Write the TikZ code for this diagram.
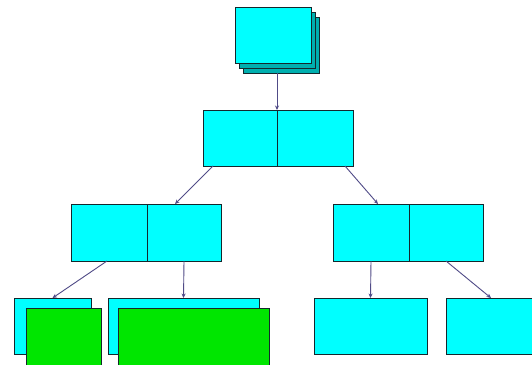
\documentclass[tikz,border=0pt]{standalone}
\usetikzlibrary{arrows.meta}
\definecolor{boxcyan}{RGB}{0,255,255}
\definecolor{boxteal}{RGB}{0,175,175}
\definecolor{boxgreen}{RGB}{0,230,0}
\definecolor{edgecol}{RGB}{20,40,45}
\definecolor{arrcol}{RGB}{80,75,135}
\tikzset{
  cbox/.style={draw=edgecol, line width=0.9pt, fill=boxcyan, inner sep=0pt, outer sep=0pt, minimum height=56pt},
  tbox/.style={cbox, fill=boxteal},
  gbox/.style={cbox, fill=boxgreen},
  arr/.style={draw=arrcol, line width=0.9pt, -{Stealth[length=4.5pt,width=4pt]}}
}
\begin{document}
\begin{tikzpicture}[x=1pt,y=-1pt]
\useasboundingbox (0,0) rectangle (532,364);
\fill[white] (0,0) rectangle (532,364);
\clip (0,0) rectangle (532,364);
% top stacked box
\node[tbox, minimum width=76pt] (topback) at (281,45) {};
\node[tbox, minimum width=76pt] (topmid) at (277,40) {};
\node[cbox, minimum width=76pt] (top) at (273,35) {};
% level 2
\node[cbox, minimum width=74pt] (l2a) at (240,138) {};
\node[cbox, minimum width=76pt] (l2b) at (315,138) {};
% level 3
\node[cbox, minimum width=76pt, minimum height=57pt] (l3a) at (109,232.5) {};
\node[cbox, minimum width=74pt, minimum height=57pt] (l3b) at (184,232.5) {};
\node[cbox, minimum width=76pt, minimum height=57pt] (l3c) at (371,232.5) {};
\node[cbox, minimum width=74pt, minimum height=57pt] (l3d) at (446,232.5) {};
% level 4
\node[cbox, minimum width=77pt] (l4a) at (52.5,326) {};
\node[gbox, minimum width=75pt, minimum height=58pt] (l4ag) at (63.5,337) {};
\node[cbox, minimum width=151pt] (l4b) at (183.5,326) {};
\node[gbox, minimum width=151pt, minimum height=58pt] (l4bg) at (193.5,337) {};
\node[cbox, minimum width=113pt] (l4c) at (370.5,326) {};
\node[cbox, minimum width=113pt] (l4d) at (502.5,326) {};
% connectors
\draw[arr] ([xshift=-4pt]topback.south) -- (l2a.north east);
\draw[arr] ([xshift=10pt]l2a.south west) -- ([xshift=28pt]l3b.north west);
\draw[arr] ([xshift=-8pt]l2b.south east) -- ([xshift=45pt]l3c.north west);
\draw[arr] ([xshift=-2pt]l3a.south) -- (l4a.north);
\draw[arr] (l3b.south) -- (l4b.north);
\draw[arr] (l3c.south) -- (l4c.north);
\draw[arr] (l3d.south) -- ([xshift=45pt]l4d.north west);
\end{tikzpicture}
\end{document}
